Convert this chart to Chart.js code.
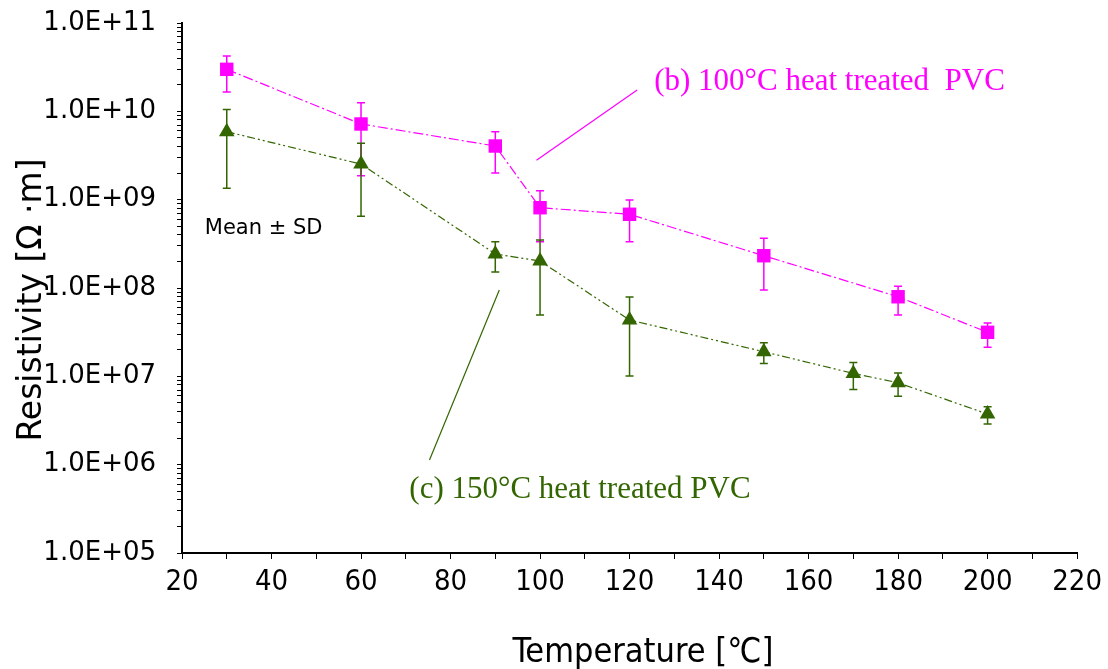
<!DOCTYPE html>
<html>
<head>
<meta charset="utf-8">
<script src="https://cdn.jsdelivr.net/npm/chart.js@4"></script>
<style>
  html, body { margin: 0; padding: 0; background: #fff; }
  #wrap { width: 1108px; height: 669px; }
</style>
</head>
<body>
<div id="wrap"><canvas id="chart" width="1108" height="669"></canvas></div>
<script>
// (b) 100°C heat treated PVC
const tempB = [30, 60, 90, 100, 120, 150, 180, 200];
const resB  = [2.99e10, 7.19e9, 4.05e9, 8.11e8, 6.83e8, 2.32e8, 7.96e7, 3.15e7];
const hiB   = [4.23e10, 1.25e10, 5.88e9, 1.26e9, 9.9e8, 3.66e8, 1.05e8, 4.02e7];
const loB   = [1.66e10, 1.87e9, 2.0e9, 3.34e8, 3.34e8, 9.5e7, 4.94e7, 2.13e7];

// (c) 150°C heat treated PVC
const tempC = [30, 60, 90, 100, 120, 150, 170, 180, 200];
const resC  = [5.88e9, 2.53e9, 2.43e8, 2.02e8, 4.34e7, 1.9e7, 1.08e7, 8.46e6, 3.74e6];
const hiC   = [1.05e10, 4.35e9, 3.34e8, 3.49e8, 7.9e7, 2.4e7, 1.43e7, 1.09e7, 4.53e6];
const loC   = [1.35e9, 6.5e8, 1.52e8, 4.94e7, 1.01e7, 1.4e7, 7.1e6, 5.94e6, 2.88e6];

const xTicks = [20, 40, 60, 80, 100, 120, 140, 160, 180, 200, 220];
const yTicks = [1e5, 1e6, 1e7, 1e8, 1e9, 1e10, 1e11];

const MAGENTA = '#FF00FF';
const GREEN = '#336600';

// error bars drawn under the markers
const errorBars = {
  id: 'errorBars',
  beforeDatasetsDraw(chart) {
    const { ctx, scales: { y } } = chart;
    chart.data.datasets.forEach((ds, i) => {
      const meta = chart.getDatasetMeta(i);
      ctx.save();
      ctx.strokeStyle = ds.borderColor;
      ctx.lineWidth = 1.5;
      meta.data.forEach((pt, j) => {
        const yh = y.getPixelForValue(ds.hi[j]);
        const yl = y.getPixelForValue(ds.lo[j]);
        ctx.beginPath();
        ctx.moveTo(pt.x, yh); ctx.lineTo(pt.x, yl);
        ctx.moveTo(pt.x - 4, yh); ctx.lineTo(pt.x + 4, yh);
        ctx.moveTo(pt.x - 4, yl); ctx.lineTo(pt.x + 4, yl);
        ctx.stroke();
      });
      ctx.restore();
    });
  }
};

// axis titles, series labels with leader lines, "Mean ± SD"
const notes = {
  id: 'notes',
  afterDraw(chart) {
    const { ctx, scales: { x, y } } = chart;
    const px = v => x.getPixelForValue(v);
    const py = v => y.getPixelForValue(v);
    ctx.save();

    ctx.lineWidth = 1.2;
    ctx.strokeStyle = MAGENTA;
    ctx.beginPath();
    ctx.moveTo(px(121.7), py(1.74e10)); ctx.lineTo(px(99.2), py(2.79e9));
    ctx.stroke();
    ctx.strokeStyle = GREEN;
    ctx.beginPath();
    ctx.moveTo(px(90.9), py(9.5e7)); ctx.lineTo(px(75.3), py(1.13e6));
    ctx.stroke();

    ctx.textAlign = 'left';
    ctx.textBaseline = 'middle';
    ctx.font = "31px 'Liberation Serif', 'Times New Roman', serif";
    ctx.fillStyle = MAGENTA;
    ctx.fillText('(b) 100°C heat treated  PVC', px(125.5), py(2.15e10));
    ctx.fillStyle = GREEN;
    ctx.fillText('(c) 150°C heat treated PVC', px(70.8), py(5.17e5));

    ctx.fillStyle = '#000';
    ctx.font = "21px 'DejaVu Sans', sans-serif";
    ctx.fillText('Mean ± SD', px(25.1), py(4.66e8));

    ctx.textAlign = 'center';
    ctx.font = "34px 'Liberation Sans Narrow', 'DejaVu Sans Condensed', sans-serif";
    ctx.fillText('Temperature [℃]', 643, 653);

    ctx.translate(32, 300);
    ctx.rotate(-Math.PI / 2);
    ctx.font = "33px 'DejaVu Sans', sans-serif";
    ctx.fillText('Resistivity [Ω ·m]', 0, 0);
    ctx.restore();
  }
};

new Chart(document.getElementById('chart'), {
  type: 'scatter',
  data: {
    datasets: [
      {
        label: '(b) 100°C heat treated PVC',
        data: tempB.map((t, i) => ({ x: t, y: resB[i] })),
        hi: hiB, lo: loB,
        showLine: true,
        borderColor: MAGENTA, backgroundColor: MAGENTA,
        borderWidth: 1.2, borderDash: [10, 3, 2, 3],
        pointStyle: 'rect', pointRadius: 9.5, pointBorderWidth: 0
      },
      {
        label: '(c) 150°C heat treated PVC',
        data: tempC.map((t, i) => ({ x: t, y: resC[i] })),
        hi: hiC, lo: loC,
        showLine: true,
        borderColor: GREEN, backgroundColor: GREEN,
        borderWidth: 1.2, borderDash: [8, 3, 2, 3, 2, 3],
        pointStyle: 'triangle', pointRadius: 9, pointBorderWidth: 0
      }
    ]
  },
  options: {
    responsive: false,
    animation: false,
    layout: { padding: { top: 23, right: 29, left: 0, bottom: 0 } },
    plugins: { legend: { display: false }, tooltip: { enabled: false } },
    scales: {
      x: {
        type: 'linear', min: 20, max: 220,
        afterFit: s => { s.height = 116; },
        border: { color: '#000', width: 2 },
        grid: { drawOnChartArea: false, drawTicks: true, tickLength: 6, color: '#000' },
        ticks: {
          stepSize: 10, autoSkip: false, maxRotation: 0, padding: 6, color: '#000',
          font: { family: "'Liberation Sans Narrow', 'DejaVu Sans Condensed', sans-serif", size: 29 },
          callback: v => xTicks.includes(v) ? String(v) : ''
        }
      },
      y: {
        type: 'logarithmic', min: 1e5, max: 1e11,
        afterFit: s => { s.width = 182; s.paddingTop = 0; s.paddingBottom = 0; },
        afterBuildTicks: s => {
          s.ticks = s.ticks.filter(t => {
            const m = t.value / Math.pow(10, Math.floor(Math.log10(t.value) + 1e-9));
            return Math.abs(m - Math.round(m)) < 1e-6;
          });
        },
        border: { color: '#000', width: 2 },
        grid: { drawOnChartArea: false, drawTicks: true, tickLength: 5, color: '#000' },
        ticks: {
          autoSkip: false, padding: 21, color: '#000',
          font: { family: "'DejaVu Sans', sans-serif", size: 26 },
          callback: v => {
            const hit = yTicks.find(t => Math.abs(t - v) / t < 1e-6);
            return hit ? '1.0E+' + String(Math.round(Math.log10(hit))).padStart(2, '0') : '';
          }
        }
      }
    }
  },
  plugins: [errorBars, notes]
});
</script>
</body>
</html>
